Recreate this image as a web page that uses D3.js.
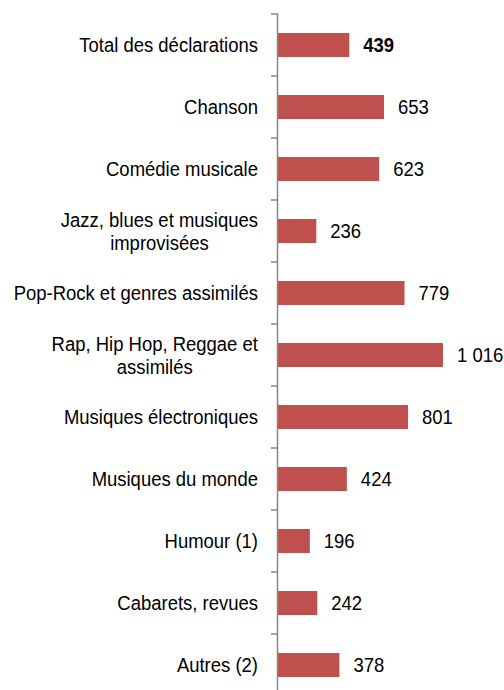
<!DOCTYPE html>
<html>
<head>
<meta charset="utf-8">
<script src="https://cdn.jsdelivr.net/npm/d3@7"></script>
<style>
	body { margin: 0; background: #fff; }
	svg text { font-family: "Liberation Sans Narrow", "Arial Narrow", "Liberation Sans", sans-serif; fill: #000; }
</style>
</head>
<body>
<div id="chart"></div>
<script>
// Categories (multi-line labels split with "\n")
var categories = [
	"Total des déclarations",
	"Chanson",
	"Comédie musicale",
	"Jazz, blues et musiques\nimprovisées",
	"Pop-Rock et genres assimilés",
	"Rap, Hip Hop, Reggae et\nassimilés",
	"Musiques électroniques",
	"Musiques du monde",
	"Humour (1)",
	"Cabarets, revues",
	"Autres (2)"
];

var values = [439, 653, 623, 236, 779, 1016, 801, 424, 196, 242, 378];

var width = 504,
	height = 690,
	axisX = 278,
	topY = 14,
	step = 62,
	fontSize = 21,
	squeeze = 0.88; // no narrow font installed, so squeeze horizontally

var svg = d3.select("#chart")
	.append("svg")
	.attr("width", width)
	.attr("height", height);

var y = d3.scaleBand()
	.domain(categories)
	.range([topY, topY + step * categories.length])
	.paddingInner(0.613)
	.paddingOuter(0.3065);

var x = d3.scaleLinear()
	.domain([0, 1016])
	.range([axisX, axisX + 165]);

var fmt = function(v) {
	return d3.format(",")(v).replace(/,/g, " ");
};

function place(sel, px, py) {
	sel.attr("transform", "translate(" + px + "," + py + ") scale(" + squeeze + ",1)");
}

// bars
svg.selectAll(".bar")
	.data(values)
	.enter().append("rect")
	.attr("class", "bar")
	.attr("x", x(0))
	.attr("y", function(d, i) { return y(categories[i]); })
	.attr("width", function(d) { return x(d) - x(0); })
	.attr("height", y.bandwidth())
	.attr("fill", "#C0504D");

// value labels
values.forEach(function(v, i) {
	var t = svg.append("text")
		.attr("class", "val")
		.attr("dy", "0.35em")
		.attr("font-size", fontSize)
		.attr("font-weight", i === 0 ? "bold" : "normal")
		.text(fmt(v));
	place(t, x(v) + 14, y(categories[i]) + y.bandwidth() / 2);
});

// category labels, right aligned block, lines centred on each other
var labelRight = 258;
categories.forEach(function(c, i) {
	var lines = c.split("\n");
	var cy = y(c) + y.bandwidth() / 2;
	var texts = lines.map(function(l) {
		return svg.append("text")
			.attr("font-size", fontSize)
			.attr("dy", "0.35em")
			.attr("text-anchor", "middle")
			.text(l);
	});
	var maxW = d3.max(texts, function(t) { return t.node().getComputedTextLength(); }) * squeeze;
	texts.forEach(function(t, j) {
		place(t, labelRight - maxW / 2, cy + (j - (lines.length - 1) / 2) * 23.5);
	});
});

// axis line with ticks between categories
var ticks = d3.range(categories.length + 1).map(function(i) { return topY + i * step; });
svg.append("line")
	.attr("x1", axisX - 0.5).attr("x2", axisX - 0.5)
	.attr("y1", topY).attr("y2", height)
	.attr("stroke", "#868686")
	.attr("stroke-width", 1.5);
svg.selectAll(".tick")
	.data(ticks)
	.enter().append("line")
	.attr("x1", axisX - 7).attr("x2", axisX)
	.attr("y1", function(d) { return d; }).attr("y2", function(d) { return d; })
	.attr("stroke", "#868686")
	.attr("stroke-width", 1.5);
</script>
</body>
</html>
